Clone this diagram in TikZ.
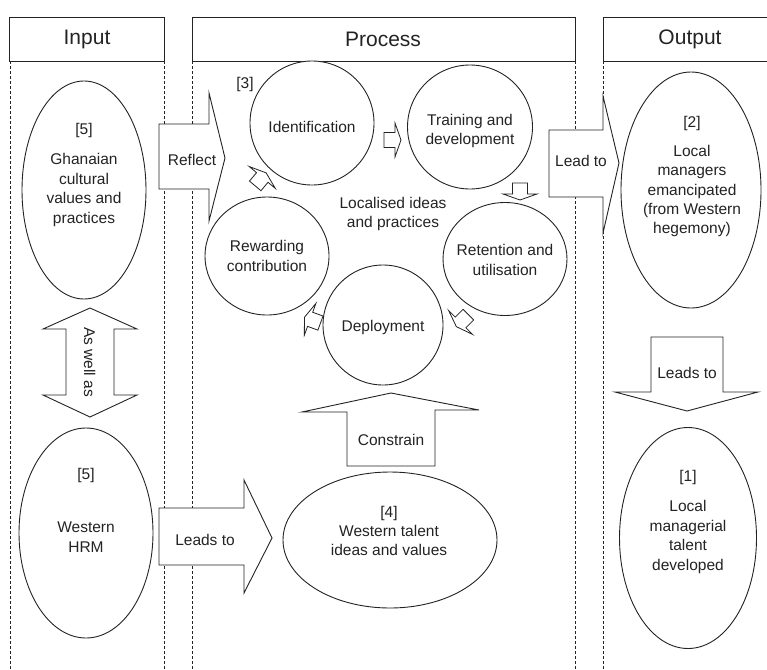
\documentclass[tikz,border=0pt]{standalone}
\usepackage{fontspec}
\setmainfont{Liberation Sans}
\usetikzlibrary{shapes.geometric}
\definecolor{ink}{RGB}{35,35,35}
\tikzset{
  box/.style={draw=ink, line width=0.9pt},
  colline/.style={draw=ink, line width=0.7pt, dash pattern=on 3pt off 2pt},
  oval/.style={ellipse, draw=ink, line width=0.9pt, inner sep=0pt, fill=white},
  barrow/.style={draw=ink, line width=0.9pt, fill=white, line join=miter},
  sarrow/.style={draw=ink, line width=0.8pt, fill=white, line join=miter},
  txt/.style={text=ink, font=\fontsize{15.5}{19.4}\selectfont, align=center, inner sep=0pt},
  onetxt/.style={text=ink, font=\fontsize{15.5}{19.4}\selectfont, inner sep=0pt},
  vword/.style={onetxt, rotate=-90, anchor=base west},
  head/.style={text=ink, font=\fontsize{21}{25}\selectfont, inner sep=0pt},
}
\newcommand\smallarr[3]{\draw[sarrow, shift={(#1,#2)}, rotate=#3] (-9,-7.5) -- (2,-7.5) -- (2,-17) -- (8,0) -- (2,17) -- (2,7.5) -- (-9,7.5) -- cycle;}
\begin{document}
\begin{tikzpicture}[x=1pt, y=-1pt]
\useasboundingbox (0,0) rectangle (767,669);
% column dashed lines
\foreach \xx in {10,164,192,575,603} {\draw[colline] (\xx,61) -- (\xx,669);}
% headers
\draw[box] (9.5,17) rectangle (164,61);
\draw[box] (192,17) rectangle (575,61);
\draw[box] (603,17) rectangle (768,61);
\node[head] (hin) at (87,39) {Input};
\node[head] (hpr) at (383,39) {Process};
\node[head] (hout) at (690,39) {Output};

% big block arrows
\draw[barrow] (159,124) -- (209,124) -- (209,93) -- (225,158) -- (209,221) -- (209,189) -- (159,189) -- cycle;
\node[onetxt] (treflect) at (192,160) {Reflect};
\draw[barrow] (159,508) -- (244,508) -- (244,480) -- (272,538) -- (244,593) -- (244,565) -- (159,565) -- cycle;
\node[onetxt] (tleads1) at (205,540) {Leads to};
\draw[barrow] (549,130) -- (603,130) -- (603,96) -- (619,163) -- (603,233) -- (603,197) -- (549,197) -- cycle;
\node[onetxt] (tlead) at (581,161) {Lead to};
\draw[barrow] (651,337) -- (723,337) -- (723,392) -- (758,392) -- (687,411) -- (615,392) -- (651,392) -- cycle;
\node[onetxt] (tleads2) at (687,373) {Leads to};
\draw[barrow] (347,466) -- (435,466) -- (435,410) -- (479,410) -- (391,393) -- (302,412) -- (347,412) -- cycle;
\node[onetxt] (tcons) at (391,440) {Constrain};
\draw[barrow] (66,329) -- (43,329) -- (90,308) -- (137,329) -- (114,329) -- (114,395) -- (137,395) -- (90,417) -- (43,395) -- (66,395) -- cycle;
\node[vword] (tas1) at (84,327) {As};
\node[vword] (twell) at (84,349.5) {well};
\node[vword] (tas2) at (84,380.5) {as};

% ellipses
\node[oval, minimum width=124pt, minimum height=218pt] (ghana) at (84,190) {};
\node[txt] (ghana5) at (84,130) {[5]};
\node[txt] (ghanat) at (84,190) {Ghanaian\\cultural\\values and\\practices};
\node[oval, minimum width=134pt, minimum height=210pt] (whrm) at (86,533) {};
\node[txt] (whrm5) at (86,475) {[5]};
\node[txt] (whrmt) at (86,537) {Western\\HRM};
\node[oval, minimum width=214pt, minimum height=136pt] (wtal) at (390,540) {};
\node[txt] (wtalt) at (389,531) {[4]\\Western talent\\ideas and values};
\node[oval, minimum width=140pt, minimum height=236pt] (lman) at (691,190) {};
\node[txt] (lman2) at (692,123) {[2]};
\node[txt] (lmant) at (692,191) {Local\\managers\\emancipated\\(from Western\\hegemony)};
\node[oval, minimum width=137pt, minimum height=221pt] (ltal) at (688,538) {};
\node[txt] (ltal1) at (688,477) {[1]};
\node[txt] (ltalt) at (688,537) {Local\\managerial\\talent\\developed};

% cycle circles
\node[txt] (t3) at (245,84) {[3]};
\node[oval, minimum width=124pt, minimum height=124pt] (ident) at (312,123) {};
\node[txt] (identt) at (312,127) {Identification};
\node[oval, minimum width=125pt, minimum height=124pt] (train) at (470,127) {};
\node[txt] (traint) at (470,131) {Training and\\development};
\node[oval, minimum width=124pt, minimum height=113pt] (ret) at (505,259) {};
\node[txt] (rett) at (505,260) {Retention and\\utilisation};
\node[oval, minimum width=124pt, minimum height=118pt] (rew) at (267,256) {};
\node[txt] (rewt) at (267,256) {Rewarding\\contribution};
\node[oval, minimum width=120pt, minimum height=120pt] (dep) at (383,325) {};
\node[txt] (dept) at (383,327) {Deployment};
\node[txt] (loc) at (393,214) {Localised ideas\\and practices};

% small arrows of the cycle
\smallarr{393}{140}{0}
\smallarr{520}{192}{-90}
\smallarr{462}{321}{225}
\smallarr{312}{320}{160}
\smallarr{261}{179}{50}
\end{tikzpicture}
\end{document}
